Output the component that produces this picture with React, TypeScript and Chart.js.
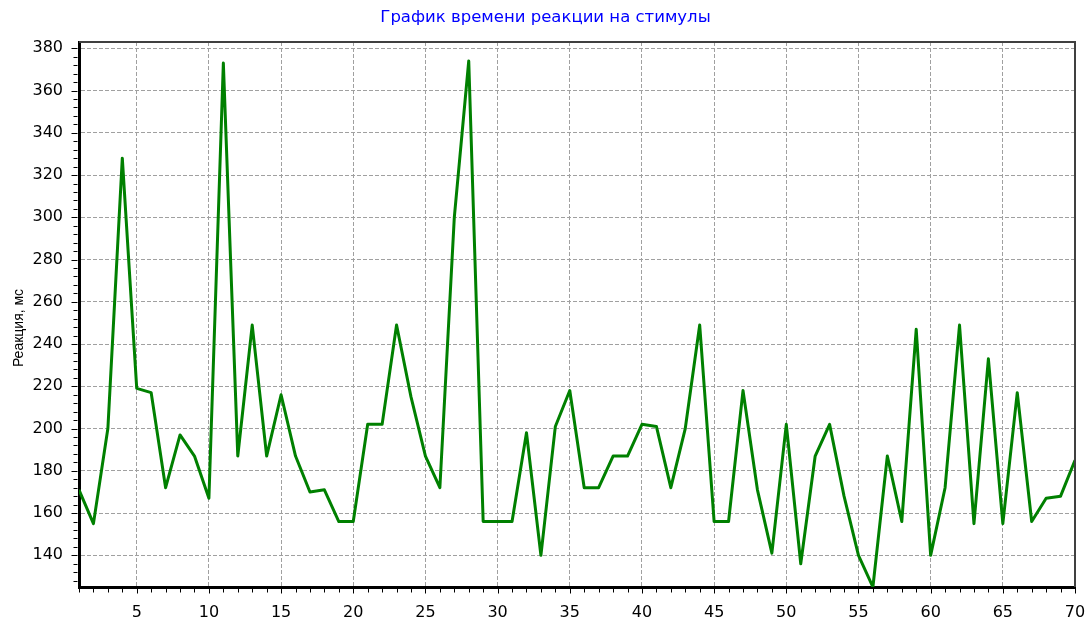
import React, { useEffect, useRef } from 'react';
import { Chart, registerables } from 'chart.js';

Chart.register(...registerables);

// Trial numbers (categories) 1..70
const trials: number[] = Array.from({ length: 70 }, (_, i) => i + 1);

// Reaction time per trial, ms
const reactionMs: number[] = [
  171, 155, 200, 328, 219, 217, 172, 197, 187, 167,
  373, 187, 249, 187, 216, 187, 170, 171, 156, 156,
  202, 202, 249, 215, 187, 172, 300, 374, 156, 156,
  156, 198, 140, 201, 218, 172, 172, 187, 187, 202,
  201, 172, 200, 249, 156, 156, 218, 171, 141, 202,
  136, 187, 202, 168, 140, 125, 187, 156, 247, 140,
  172, 249, 155, 233, 155, 217, 156, 167, 168, 185,
];

const titleText = 'График времени реакции на стимулы';
const yAxisTitle = 'Реакция, мс';
const yMin = 125;
const yMax = 383;
const yStep = 20;
const yMinorStep = 4;
const xLabelStep = 5;

const FONT = '"DejaVu Sans", Verdana, sans-serif';
const FONT2 = '"Liberation Sans", Arial, sans-serif';

export default function App() {
  const ref = useRef<HTMLCanvasElement | null>(null);

  useEffect(() => {
    document.body.style.margin = '0';
    const canvas = ref.current;
    if (!canvas) return;

    const framePlugin = {
      id: 'frameAndTicks',
      afterDraw(chart: any) {
        const { ctx, chartArea: a, scales } = chart;
        const xs = scales.x;
        const ys = scales.y;
        ctx.save();
        // top and right frame
        ctx.strokeStyle = '#404040';
        ctx.lineWidth = 2;
        ctx.beginPath();
        ctx.moveTo(a.left, a.top);
        ctx.lineTo(a.right, a.top);
        ctx.lineTo(a.right, a.bottom);
        ctx.stroke();
        // tick marks
        ctx.strokeStyle = '#000';
        ctx.lineWidth = 1;
        ctx.beginPath();
        for (let v = Math.ceil(yMin / yMinorStep) * yMinorStep; v <= yMax; v += yMinorStep) {
          const py = Math.round(ys.getPixelForValue(v)) + 0.5;
          const len = v % yStep === 0 ? 6 : 4;
          ctx.moveTo(a.left - 1.5 - len, py);
          ctx.lineTo(a.left - 1.5, py);
        }
        for (const t of trials) {
          const px = Math.round(xs.getPixelForValue(t)) + 0.5;
          const len = t % xLabelStep === 0 ? 5 : 4;
          ctx.moveTo(px, a.bottom + 1.5);
          ctx.lineTo(px, a.bottom + 1.5 + len);
        }
        ctx.stroke();
        // y axis title
        ctx.translate(19, 328);
        ctx.rotate(-Math.PI / 2);
        ctx.fillStyle = '#000';
        ctx.font = `14px ${FONT2}`;
        ctx.textAlign = 'center';
        ctx.textBaseline = 'middle';
        ctx.fillText(yAxisTitle, 0, 0);
        ctx.restore();
      },
    };

    const chart = new Chart(canvas, {
      type: 'line',
      data: {
        datasets: [
          {
            data: trials.map((t, i) => ({ x: t, y: reactionMs[i] })),
            borderColor: '#008000',
            borderWidth: 3,
            borderJoinStyle: 'round',
            pointRadius: 0,
            tension: 0,
            fill: false,
          },
        ],
      },
      options: {
        responsive: false,
        animation: false,
        layout: { padding: { left: 0, right: 0, top: 0, bottom: 0 } },
        plugins: {
          legend: { display: false },
          tooltip: { enabled: false },
          title: {
            display: true,
            text: titleText,
            color: '#0000ff',
            font: { family: FONT, size: 16.5, weight: 'normal' },
            padding: { top: 8, bottom: 14.2 },
          },
        },
        scales: {
          x: {
            type: 'linear',
            min: 1,
            max: 70,
            afterFit(scale: any) {
              scale.height = 36;
              scale.paddingLeft = 0;
              scale.paddingRight = 16;
            },
            ticks: {
              stepSize: 1,
              autoSkip: false,
              maxRotation: 0,
              minRotation: 0,
              padding: 16,
              color: '#000',
              font: { family: FONT, size: 16 },
              callback: (v: any) => (Number(v) % xLabelStep === 0 ? String(v) : ''),
            },
            grid: {
              drawTicks: false,
              color: (c: any) =>
                c.tick && c.tick.value % xLabelStep === 0 ? '#a0a0a0' : 'rgba(0,0,0,0)',
              lineWidth: 1,
            },
            border: { display: true, color: '#000', width: 3, dash: [4, 2] },
          },
          y: {
            type: 'linear',
            min: yMin,
            max: yMax,
            afterFit(scale: any) {
              scale.width = 79;
              scale.paddingTop = 0;
              scale.paddingBottom = 0;
            },
            ticks: {
              stepSize: yStep,
              includeBounds: false,
              padding: 16,
              color: '#000',
              font: { family: FONT, size: 16 },
            },
            grid: {
              drawTicks: false,
              color: '#a0a0a0',
              lineWidth: 1,
            },
            border: { display: true, color: '#000', width: 3, dash: [4, 2] },
          },
        },
      },
      plugins: [framePlugin],
    } as any);

    return () => chart.destroy();
  }, []);

  return <canvas ref={ref} width={1091} height={623} style={{ display: 'block' }} />;
}
